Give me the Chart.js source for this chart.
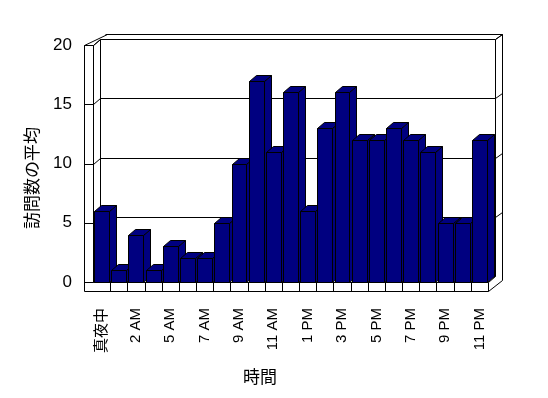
<!DOCTYPE html>
<html>
<head>
<meta charset="utf-8">
<script src="https://cdn.jsdelivr.net/npm/chart.js@4"></script>
<style>
  body { margin: 0; background: #fff; }
  #chart { display: block; }
</style>
</head>
<body>
<canvas id="chart" width="548" height="398"></canvas>
<script>
// data
const hours = ["真夜中", "1 AM", "2 AM", "4 AM", "5 AM", "6 AM", "7 AM", "8 AM", "9 AM", "10 AM", "11 AM", "12 PM",
  "1 PM", "2 PM", "3 PM", "4 PM", "5 PM", "6 PM", "7 PM", "8 PM", "9 PM", "10 PM", "11 PM"];
const visits = [6, 1, 4, 1, 3, 2, 2, 5, 10, 17, 11, 16, 6, 13, 16, 12, 12, 13, 12, 11, 5, 5, 12];
const yTicks = [0, 5, 10, 15, 20];
const xTitle = "時間";
const yTitle = "訪問数の平均";

const fontFamily = '"Liberation Sans", "Noto Sans CJK JP", sans-serif';
const navy = "#000080";
const dx = 7, dy = 6;   // depth of bars and back wall
const wall = 9;         // thickness of left wall and floor

function seg(ctx, x1, y1, x2, y2) {
  ctx.beginPath();
  ctx.moveTo(Math.round(x1) + 0.5, Math.round(y1) + 0.5);
  ctx.lineTo(Math.round(x2) + 0.5, Math.round(y2) + 0.5);
  ctx.stroke();
}

function poly(ctx, pts) {
  ctx.beginPath();
  pts.forEach(function (p, i) {
    if (i === 0) ctx.moveTo(p[0] + 0.5, p[1] + 0.5);
    else ctx.lineTo(p[0] + 0.5, p[1] + 0.5);
  });
  ctx.closePath();
  ctx.fill();
  ctx.stroke();
}

const box3d = {
  id: "box3d",
  beforeDatasetsDraw(chart) {
    const ctx = chart.ctx;
    const a = chart.chartArea;
    const y = chart.scales.y;
    const x = chart.scales.x;
    const L = a.left, R = a.right, T = a.top, B = a.bottom;
    ctx.save();
    ctx.strokeStyle = "#000";
    ctx.lineWidth = 1;

    // back wall and top of left wall
    seg(ctx, L - wall, T, L, T);
    seg(ctx, L - wall, T, L + 2 * dx, T - 11);
    seg(ctx, L, T, L + dx, T - dy);
    seg(ctx, L + 2 * dx - 2, T - 11, R + 2 * dx, T - 11);
    seg(ctx, R + dx, T - dy, R + 2 * dx, T - 11);
    seg(ctx, R + dx, T - dy, R + dx, B - dy);
    seg(ctx, R + 2 * dx, T - 11, R + 2 * dx, B - 2);
    seg(ctx, L + dx, T - dy, L + dx, B - dy);
    seg(ctx, L + dx, B - dy, R + dx, B - dy);
    seg(ctx, L, B, L + dx, B - dy);

    // grid lines on the back wall, ticks on the left wall
    yTicks.forEach(function (v) {
      const py = Math.round(y.getPixelForValue(v));
      seg(ctx, L - wall, py, L, py);
      if (v === 0) return;
      seg(ctx, L, py, L + dx, py - dy);
      seg(ctx, L + dx, py - dy, R + dx, py - dy);
      seg(ctx, R + dx, py - dy, R + 2 * dx, py - 11);
    });

    // left wall and floor front faces
    seg(ctx, L - wall, T, L - wall, B + wall);
    seg(ctx, L, T, L, B);
    seg(ctx, L, B, R, B);
    seg(ctx, L - wall, B + wall, R, B + wall);
    seg(ctx, R, B, R, B + wall);
    seg(ctx, R, B, R + dx, B - dy);
    seg(ctx, R, B + wall, R + 2 * dx, B - 2);

    // category ticks on the floor
    for (let i = 0; i < hours.length - 1; i++) {
      const px = (x.getPixelForValue(i) + x.getPixelForValue(i + 1)) / 2;
      seg(ctx, px, B, px, B + wall);
    }
    ctx.restore();
  },
  beforeDatasetDraw(chart, args) {
    const ctx = chart.ctx;
    const meta = args.meta;
    ctx.save();
    ctx.fillStyle = navy;
    ctx.strokeStyle = "#000";
    ctx.lineWidth = 1;
    meta.data.forEach(function (bar) {
      const p = bar.getProps(["x", "y", "base", "width"], true);
      const l = Math.round(p.x - p.width / 2);
      const r = Math.round(p.x + p.width / 2);
      const t = Math.round(p.y);
      const b = Math.round(p.base);
      poly(ctx, [[r, t], [r + dx, t - dy], [r + dx, b - dy], [r, b]]);
      poly(ctx, [[l, t], [l + dx, t - dy], [r + dx, t - dy], [r, t]]);
      poly(ctx, [[l, t], [r, t], [r, b], [l, b]]);
    });
    ctx.restore();
    return false;
  },
  afterDraw(chart) {
    const ctx = chart.ctx;
    ctx.save();
    ctx.fillStyle = "#000";
    ctx.font = "17px " + fontFamily;
    ctx.textAlign = "center";
    ctx.textBaseline = "middle";
    ctx.fillText(xTitle, 260, 378);
    ctx.translate(33, 178);
    ctx.rotate(-Math.PI / 2);
    ctx.fillText(yTitle, 0, 0);
    ctx.restore();
  }
};

const config = {
  type: "bar",
  data: {
    labels: hours,
    datasets: [
      {
        data: visits,
        backgroundColor: navy,
        borderWidth: 0,
        categoryPercentage: 1,
        barPercentage: 0.87,
      },
    ],
  },
  options: {
    responsive: false,
    animation: false,
    layout: { padding: { top: 45, right: 60, left: 0, bottom: 0 } },
    plugins: { legend: { display: false }, tooltip: { enabled: false } },
    scales: {
      x: {
        grid: { display: false, drawTicks: false },
        border: { display: false },
        afterFit: function (scale) { scale.height = 116; },
        ticks: {
          autoSkip: false,
          minRotation: 90,
          maxRotation: 90,
          padding: 26,
          color: "#000",
          font: { family: fontFamily, size: 15 },
          callback: function (val, i) { return i % 2 === 0 ? hours[i] : ""; },
        },
      },
      y: {
        min: 0,
        max: 20,
        grid: { display: false, drawTicks: false },
        border: { display: false },
        afterFit: function (scale) { scale.width = 93; },
        ticks: {
          stepSize: 5,
          padding: 21,
          color: "#000",
          font: { family: fontFamily, size: 17 },
        },
      },
    },
  },
  plugins: [box3d],
};

const barChart = new Chart(document.getElementById("chart"), config);
</script>
</body>
</html>
